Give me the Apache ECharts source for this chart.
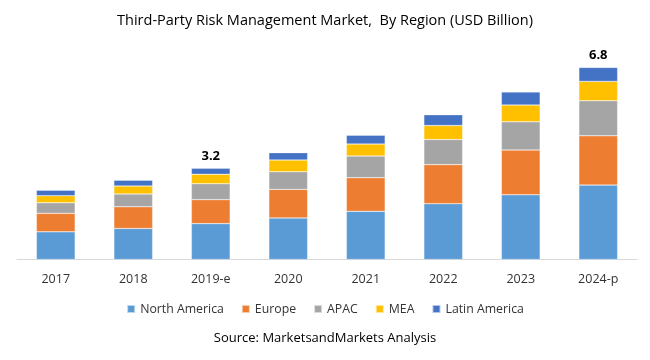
<!DOCTYPE html>
<html>
<head>
<meta charset="utf-8">
<script src="https://cdn.jsdelivr.net/npm/echarts@6/dist/echarts.min.js"></script>
<style>html,body{margin:0;padding:0;background:#fff}#c{width:650px;height:360px}</style>
</head>
<body>
<div id="c"></div>
<script>
var categories = ['2017', '2018', '2019-e', '2020', '2021', '2022', '2023', '2024-p'];
var northAmerica = [0.97, 1.09, 1.26, 1.46, 1.69, 1.96, 2.27, 2.61];
var europe = [0.65, 0.76, 0.84, 1.00, 1.18, 1.37, 1.57, 1.73];
var apac = [0.37, 0.45, 0.56, 0.62, 0.76, 0.88, 0.99, 1.23];
var mea = [0.25, 0.28, 0.33, 0.41, 0.42, 0.49, 0.59, 0.68];
var latinAmerica = [0.19, 0.20, 0.21, 0.26, 0.31, 0.38, 0.46, 0.49];
var totalLabels = ['', '', '3.2', '', '', '', '', '6.8'];

var font = 'Open Sans';
var chart = echarts.init(document.getElementById('c'));
function mk(name, data, color, withLabel) {
  var s = {
    name: name, type: 'bar', stack: 'total', data: data, barWidth: '50%',
    itemStyle: { color: color, borderColor: 'rgba(255,255,255,0.6)', borderWidth: 0.5 }
  };
  if (withLabel) {
    s.label = {
      show: true, position: 'top', distance: 6,
      fontFamily: font, fontSize: 13, fontWeight: 'bold', color: '#000',
      formatter: function (p) { return totalLabels[p.dataIndex]; }
    };
  }
  return s;
}
chart.setOption({
  animation: false,
  title: {
    text: 'Third-Party Risk Management Market,  By Region (USD Billion)',
    left: 'center', top: 8,
    textStyle: { fontFamily: font, fontSize: 14.5, fontWeight: 'normal', color: '#000' }
  },
  legend: {
    bottom: 40, left: 'center', itemWidth: 8, itemHeight: 8, itemGap: 17, icon: 'rect',
    textStyle: { fontFamily: font, fontSize: 12.3, color: '#333' }
  },
  graphic: [{
    type: 'text', left: 'center', top: 332,
    style: { text: 'Source: MarketsandMarkets Analysis', font: '13px "Open Sans"', fill: '#000' }
  }],
  grid: { left: 17, right: 13, top: 31.5, bottom: 100.5 },
  xAxis: {
    type: 'category', data: categories,
    axisLine: { lineStyle: { color: '#d9d9d9' } },
    axisTick: { show: false },
    axisLabel: { fontFamily: font, fontSize: 12.5, color: '#333', margin: 13 }
  },
  yAxis: { type: 'value', min: 0, max: 8, show: false, splitLine: { show: false } },
  series: [
    mk('North America', northAmerica, '#5B9BD5'),
    mk('Europe', europe, '#ED7D31'),
    mk('APAC', apac, '#A5A5A5'),
    mk('MEA', mea, '#FFC000'),
    mk('Latin America', latinAmerica, '#4472C4', true)
  ]
});
</script>
</body>
</html>
